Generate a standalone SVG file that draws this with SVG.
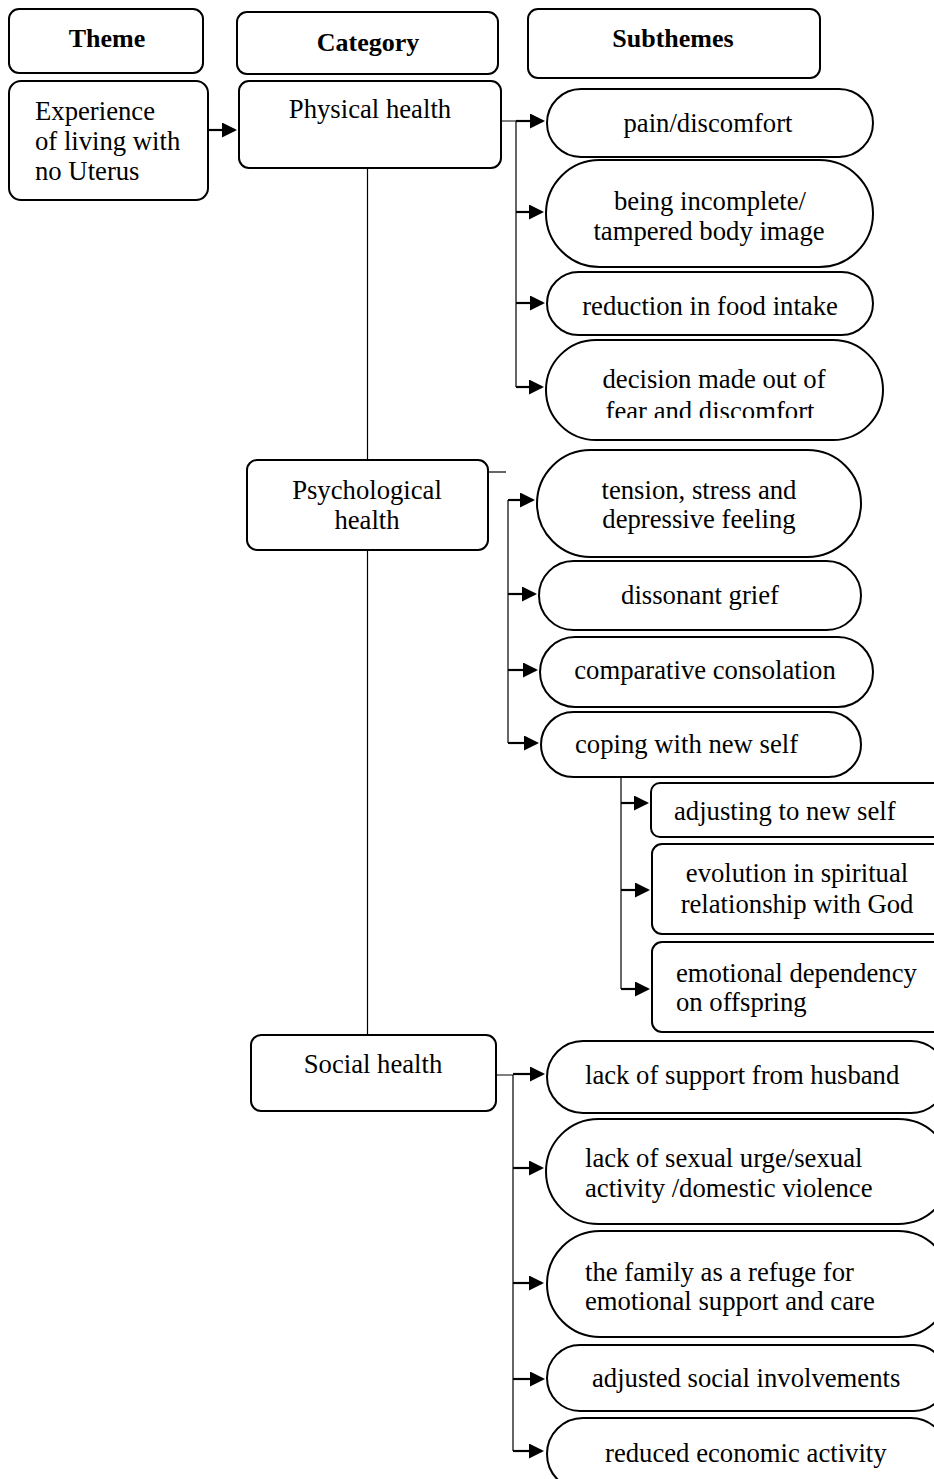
<svg xmlns="http://www.w3.org/2000/svg" width="934" height="1479" viewBox="0 0 934 1479">
<style>
  .box { fill: #fff; stroke: #000; stroke-width: 2; }
  .t { font-family: "Liberation Serif", "Times New Roman", serif; font-size: 26.7px; fill: #000; }
  .h { font-family: "Liberation Serif", "Times New Roman", serif; font-size: 26px; font-weight: bold; fill: #000; }
  .m { text-anchor: middle; }
  .thin { stroke: #000; stroke-width: 1.2; fill: none; }
  .arr { stroke: #000; stroke-width: 2.2; fill: none; marker-end: url(#ah); }
</style>
<defs>
  <marker id="ah" markerUnits="userSpaceOnUse" markerWidth="16" markerHeight="15" refX="13" refY="7.5" orient="auto">
    <path d="M0,0 L15,7.5 L0,15 z" fill="#000"/>
  </marker>
  <clipPath id="clipDecision"><rect x="540" y="338" width="350" height="80"/></clipPath>
</defs>
<rect width="934" height="1479" fill="#fff"/>

<g id="connectors">
  <line class="arr" x1="208" y1="130" x2="235" y2="130"/>
  <line class="thin" x1="367.5" y1="168" x2="367.5" y2="1035"/>
  <!-- physical -->
  <polyline class="thin" points="501,121 516,121 516,387"/>
  <line class="arr" x1="516" y1="121" x2="543" y2="121"/>
  <line class="arr" x1="516" y1="212" x2="542" y2="212"/>
  <line class="arr" x1="516" y1="303" x2="543" y2="303"/>
  <line class="arr" x1="516" y1="387" x2="542" y2="387"/>
  <!-- psychological -->
  <line class="thin" x1="488" y1="472" x2="506" y2="472"/>
  <line class="thin" x1="508" y1="500" x2="508" y2="743"/>
  <line class="arr" x1="508" y1="500" x2="533" y2="500"/>
  <line class="arr" x1="508" y1="594" x2="535" y2="594"/>
  <line class="arr" x1="508" y1="670" x2="536" y2="670"/>
  <line class="arr" x1="508" y1="743" x2="537" y2="743"/>
  <!-- coping -->
  <line class="thin" x1="621" y1="777" x2="621" y2="989"/>
  <line class="arr" x1="621" y1="803" x2="647" y2="803"/>
  <line class="arr" x1="621" y1="890" x2="648" y2="890"/>
  <line class="arr" x1="621" y1="989" x2="648" y2="989"/>
  <!-- social -->
  <polyline class="thin" points="496,1075 513,1075 513,1451"/>
  <line class="arr" x1="513" y1="1074" x2="543" y2="1074"/>
  <line class="arr" x1="513" y1="1168" x2="542" y2="1168"/>
  <line class="arr" x1="513" y1="1283" x2="542" y2="1283"/>
  <line class="arr" x1="513" y1="1379" x2="543" y2="1379"/>
  <line class="arr" x1="513" y1="1451" x2="542" y2="1451"/>
</g>

<g id="hdr-theme"><rect class="box" x="9" y="9" width="194" height="64" rx="10"/><text class="h m" x="107" y="47">Theme</text></g>
<g id="hdr-category"><rect class="box" x="237" y="12" width="261" height="62" rx="10"/><text class="h m" x="368" y="51">Category</text></g>
<g id="hdr-subthemes"><rect class="box" x="528" y="9" width="292" height="69" rx="10"/><text class="h m" x="673" y="47">Subthemes</text></g>

<g id="theme"><rect class="box" x="9" y="81" width="199" height="119" rx="12"/>
  <text class="t" x="35" y="120">Experience</text>
  <text class="t" x="35" y="150">of living with</text>
  <text class="t" x="35" y="180">no Uterus</text>
</g>

<g id="cat-physical"><rect class="box" x="239" y="81" width="262" height="87" rx="10"/><text class="t m" x="370" y="118">Physical health</text></g>
<g id="cat-psych"><rect class="box" x="247" y="460" width="241" height="90" rx="10"/>
  <text class="t m" x="367" y="499">Psychological</text><text class="t m" x="367" y="529">health</text></g>
<g id="cat-social"><rect class="box" x="251" y="1035" width="245" height="76" rx="10"/><text class="t m" x="373" y="1073">Social health</text></g>

<g id="s-pain"><rect class="box" x="547" y="89" width="326" height="68" rx="34"/><text class="t m" x="708" y="132">pain/discomfort</text></g>
<g id="s-incomplete"><rect class="box" x="546" y="160" width="327" height="107" rx="53.5"/>
  <text class="t m" x="710" y="210">being incomplete/</text><text class="t m" x="709" y="240">tampered body image</text></g>
<g id="s-food"><rect class="box" x="547" y="272" width="326" height="63" rx="31.5"/><text class="t m" x="710" y="315">reduction in food intake</text></g>
<g id="s-decision"><rect class="box" x="546" y="340" width="337" height="100" rx="50"/>
  <text class="t m" x="714" y="388">decision made out of</text>
  <text class="t m" x="710" y="420" clip-path="url(#clipDecision)">fear and discomfort</text></g>

<g id="s-tension"><rect class="box" x="537" y="450" width="324" height="107" rx="53.5"/>
  <text class="t m" x="699" y="499">tension, stress and</text><text class="t m" x="699" y="528">depressive feeling</text></g>
<g id="s-grief"><rect class="box" x="539" y="561" width="322" height="69" rx="34.5"/><text class="t m" x="700" y="604">dissonant grief</text></g>
<g id="s-consolation"><rect class="box" x="540" y="637" width="333" height="70" rx="35"/><text class="t m" x="705" y="679">comparative consolation</text></g>
<g id="s-coping"><rect class="box" x="541" y="712" width="320" height="65" rx="32.5"/><text class="t" x="575" y="753">coping with new self</text></g>

<g id="c-adjusting"><rect class="box" x="651" y="783" width="300" height="54" rx="9"/><text class="t" x="674" y="820">adjusting to new self</text></g>
<g id="c-spiritual"><rect class="box" x="652" y="844" width="300" height="90" rx="10"/>
  <text class="t m" x="797" y="882">evolution in spiritual</text><text class="t m" x="797" y="913">relationship with God</text></g>
<g id="c-dependency"><rect class="box" x="652" y="942" width="300" height="90" rx="10"/>
  <text class="t" x="676" y="982">emotional dependency</text><text class="t" x="676" y="1011">on offspring</text></g>

<g id="s-husband"><rect class="box" x="547" y="1041" width="400" height="72" rx="36"/><text class="t" x="585" y="1084">lack of support from husband</text></g>
<g id="s-sexual"><rect class="box" x="546" y="1119" width="405" height="105" rx="52.5"/>
  <text class="t" x="585" y="1167">lack of sexual urge/sexual</text><text class="t" x="585" y="1197">activity /domestic violence</text></g>
<g id="s-family"><rect class="box" x="547" y="1231" width="404" height="106" rx="53"/>
  <text class="t" x="585" y="1281">the family as a refuge for</text><text class="t" x="585" y="1310">emotional support and care</text></g>
<g id="s-adjusted"><rect class="box" x="547" y="1345" width="400" height="66" rx="33"/><text class="t" x="592" y="1387">adjusted social involvements</text></g>
<g id="s-economic"><rect class="box" x="547" y="1418" width="400" height="72" rx="36"/><text class="t" x="605" y="1462">reduced economic activity</text></g>
</svg>
